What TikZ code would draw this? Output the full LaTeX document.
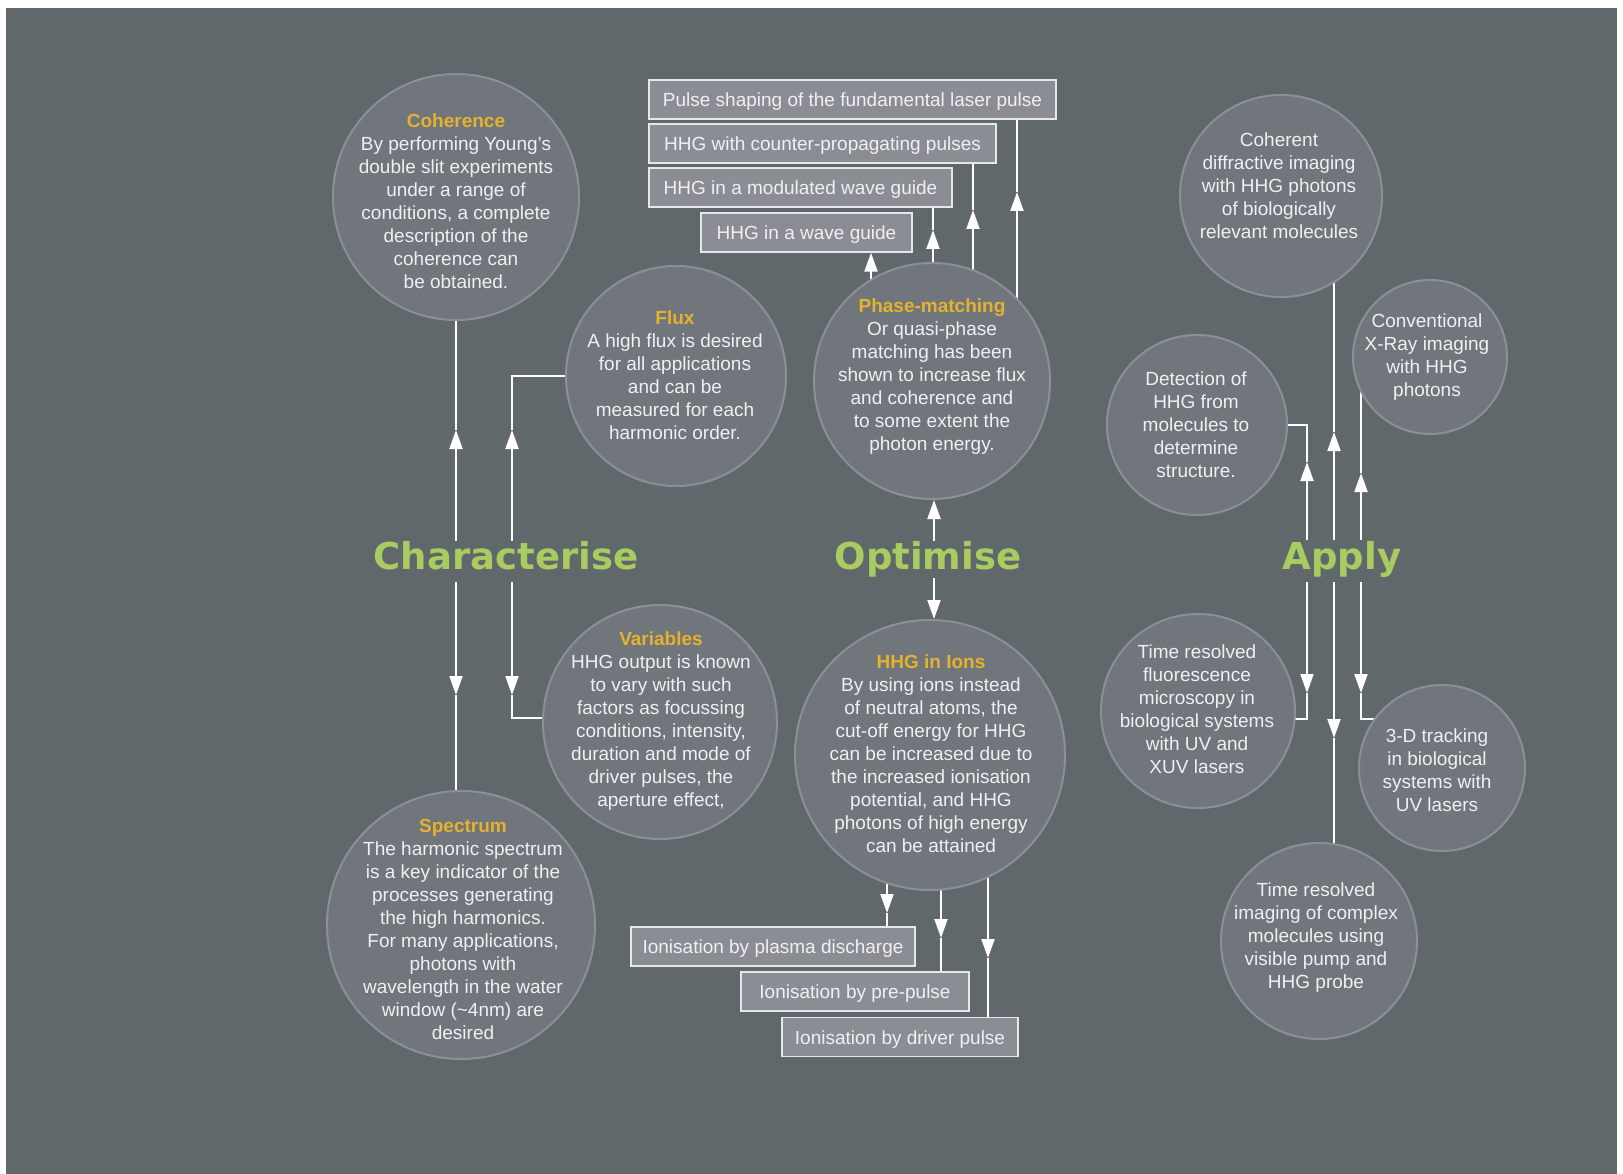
\documentclass[tikz,border=0pt]{standalone}
\usepackage{fontspec}
\setmainfont{Liberation Sans}
\newfontfamily\headfont{DejaVu Sans}
\usetikzlibrary{arrows.meta}
\definecolor{bgc}{HTML}{61686B}
\definecolor{cfill}{HTML}{71757C}
\definecolor{cedge}{HTML}{8C9095}
\definecolor{bfill}{HTML}{8A8E94}
\definecolor{bedge}{HTML}{E6E7E9}
\definecolor{ttl}{HTML}{E5B22E}
\definecolor{grn}{HTML}{A8CC60}
\definecolor{txtc}{HTML}{F0F0F0}
\pgfdeclarelayer{bg}
\pgfdeclarelayer{lines}
\pgfsetlayers{bg,lines,main}
\newcommand\ttlx[1]{{\bfseries\color{ttl}#1}}
\begin{document}
\begin{tikzpicture}[x=1pt,y=-1pt,
  circ/.style={circle,fill=cfill,draw=cedge,line width=2pt,minimum size=#1,inner sep=0pt},
  txt/.style={align=center,inner sep=0pt,text=txtc,font=\fontsize{19}{23}\selectfont},
  boxn/.style={draw=bedge,fill=bfill,line width=1.4pt,inner sep=0pt,minimum height=39pt,minimum width=#1,text height=18pt,text depth=4pt,text=txtc,font=\fontsize{19}{23}\selectfont},
  head/.style={anchor=base,inner sep=0pt,text=grn,font=\headfont\bfseries\fontsize{37}{40}\selectfont},
  wl/.style={draw=white,line width=2pt},
  arr/.style={-{Triangle[length=19pt,width=13pt]}}]
\useasboundingbox (0,0) rectangle (1623,1174);
\begin{pgfonlayer}{bg}
\fill[white] (0,0) rectangle (1623,1174);
\fill[bgc] (6,8) rectangle (1617,1174);
\end{pgfonlayer}

% circles
\node[circ=246] (coh) at (456,197) {};
\node[circ=220] (flux) at (676,376) {};
\node[circ=236] (pm) at (932,381) {};
\node[circ=234] (var) at (660,722) {};
\node[circ=268] (spec) at (461,925) {};
\node[circ=270] (ions) at (930,755) {};
\node[circ=202] (cd) at (1281,196) {};
\node[circ=154] (conv) at (1430,357) {};
\node[circ=180] (det) at (1197,425) {};
\node[circ=194] (fl) at (1198,711) {};
\node[circ=166] (td) at (1442,768) {};
\node[circ=196] (tri) at (1319,941) {};

% circle texts
\node[txt] (cohT) at (456,201) {\ttlx{Coherence}\\By performing Young’s\\double slit experiments\\under a range of\\conditions, a complete\\description of the\\coherence can\\be obtained.};
\node[txt] (fluxT) at (675,375) {\ttlx{Flux}\\A high flux is desired\\for all applications\\and can be\\measured for each\\harmonic order.};
\node[txt] (pmT) at (932,377) {\ttlx{Phase-matching}\\Or quasi-phase\\matching has been\\shown to increase flux\\and coherence and\\to some extent the\\photon energy.};
\node[txt] (varT) at (661,721) {\ttlx{Variables}\\HHG output is known\\to vary with such\\factors as focussing\\conditions, intensity,\\duration and mode of\\driver pulses, the\\aperture effect,};
\node[txt] (specT) at (463,929) {\ttlx{Spectrum}\\The harmonic spectrum\\is a key indicator of the\\processes generating\\the high harmonics.\\For many applications,\\photons with\\wavelength in the water\\window (\textasciitilde4nm) are\\desired};
\node[txt] (ionsT) at (931,754) {\ttlx{HHG in Ions}\\By using ions instead\\of neutral atoms, the\\cut-off energy for HHG\\can be increased due to\\the increased ionisation\\potential, and HHG\\photons of high energy\\can be attained};
\node[txt] (cdT) at (1279,186) {Coherent\\diffractive imaging\\with HHG photons\\of biologically\\relevant molecules};
\node[txt] (convT) at (1427,357) {Conventional\\X-Ray imaging\\with HHG\\photons};
\node[txt] (detT) at (1196,425) {Detection of\\HHG from\\molecules to\\determine\\structure.};
\node[txt] (flT) at (1197,709) {Time resolved\\fluorescence\\microscopy in\\biological systems\\with UV and\\XUV lasers};
\node[txt] (tdT) at (1437,770) {3-D tracking\\in biological\\systems with\\UV lasers};
\node[txt] (triT) at (1316,938) {Time resolved\\imaging of complex\\molecules using\\visible pump and\\HHG probe};

% boxes
\node[boxn=407] (ps) at (852.5,99.5) {Pulse shaping of the fundamental laser pulse};
\node[boxn=347] (cp) at (822.5,143.5) {HHG with counter-propagating pulses};
\node[boxn=303] (mw) at (800.5,187.5) {HHG in a modulated wave guide};
\node[boxn=211] (wg) at (806.5,232.5) {HHG in a wave guide};
\node[boxn=284] (pd) at (773,946.5) {Ionisation by plasma discharge};
\node[boxn=228] (pp) at (855,991.5) {Ionisation by pre-pulse};
\node[boxn=236] (dp) at (900,1037) {Ionisation by driver pulse};

% headings
\node[head] (char) at (506,569) {Characterise};
\node[head] (opt) at (928,569) {Optimise};
\node[head] (app) at (1342,569) {Apply};

% connectors
\begin{pgfonlayer}{lines}
% Characterise
\coordinate (a1) at (456,541); \coordinate (a1t) at (456,430);
\draw[wl,arr] (a1) -- (a1t); \draw[wl] (a1t) -- (coh);
\coordinate (a2) at (512,541); \coordinate (a2t) at (512,430); \coordinate (a2k) at (512,376);
\draw[wl,arr] (a2) -- (a2t); \draw[wl] (a2t) -- (a2k) -- (flux);
\coordinate (b1) at (456,582); \coordinate (b1t) at (456,695);
\draw[wl,arr] (b1) -- (b1t); \draw[wl] (b1t) -- (b1t |- spec);
\coordinate (b2) at (512,582); \coordinate (b2t) at (512,695); \coordinate (b2k) at (512,718);
\draw[wl,arr] (b2) -- (b2t); \draw[wl] (b2t) -- (b2k) -- (b2k -| var);
% Optimise
\coordinate (o1) at (934,541); \draw[wl,arr] (o1) -- (o1 |- pm.south);
\coordinate (o2) at (934,578); \draw[wl,arr] (o2) -- (o2 |- ions.north);
\coordinate (t1) at (871,252); \draw[wl,arr] (t1 |- pm) -- (t1 |- wg.south);
\coordinate (t2) at (933,230); \draw[wl,arr] (t2 |- pm) -- (t2); \draw[wl] (t2) -- (t2 |- mw.south);
\coordinate (t3) at (973,210); \draw[wl,arr] (t3 |- pm) -- (t3); \draw[wl] (t3) -- (t3 |- cp.south);
\coordinate (t4) at (1017,192); \draw[wl,arr] (t4 |- pm) -- (t4); \draw[wl] (t4) -- (t4 |- ps.south);
\coordinate (u1) at (887,913); \draw[wl,arr] (u1 |- ions) -- (u1); \draw[wl] (u1) -- (u1 |- pd.north);
\coordinate (u2) at (941,938); \draw[wl,arr] (u2 |- ions) -- (u2); \draw[wl] (u2) -- (u2 |- pp.north);
\coordinate (u3) at (988,958); \draw[wl,arr] (u3 |- ions) -- (u3); \draw[wl] (u3) -- (u3 |- dp.north);
% Apply
\coordinate (q1) at (1307,540); \coordinate (q1t) at (1307,462); \coordinate (q1k) at (1307,425);
\draw[wl,arr] (q1) -- (q1t); \draw[wl] (q1t) -- (q1k) -- (det);
\coordinate (q2) at (1334,540); \coordinate (q2t) at (1334,432);
\draw[wl,arr] (q2) -- (q2t); \draw[wl] (q2t) -- (q2t |- cd);
\coordinate (q3) at (1361,540); \coordinate (q3t) at (1361,473);
\draw[wl,arr] (q3) -- (q3t); \draw[wl] (q3t) -- (q3t |- conv);
\coordinate (r1) at (1307,582); \coordinate (r1t) at (1307,693); \coordinate (r1k) at (1307,719);
\draw[wl,arr] (r1) -- (r1t); \draw[wl] (r1t) -- (r1k) -- (r1k -| fl);
\coordinate (r2) at (1334,582); \coordinate (r2t) at (1334,738);
\draw[wl,arr] (r2) -- (r2t); \draw[wl] (r2t) -- (r2t |- tri);
\coordinate (r3) at (1361,582); \coordinate (r3t) at (1361,693); \coordinate (r3k) at (1361,719);
\draw[wl,arr] (r3) -- (r3t); \draw[wl] (r3t) -- (r3k) -- (r3k -| td);
\end{pgfonlayer}
\end{tikzpicture}
\end{document}
